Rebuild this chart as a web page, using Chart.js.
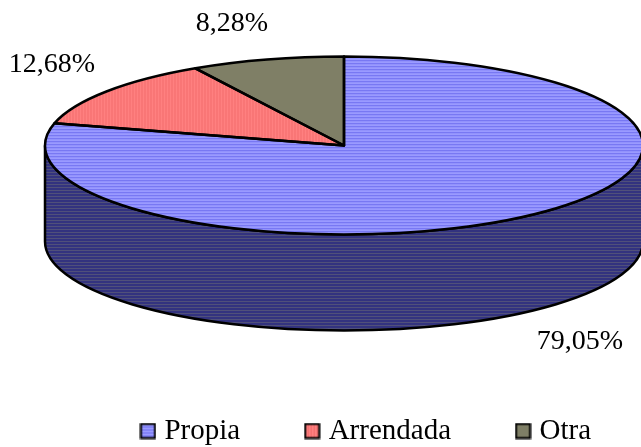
<!DOCTYPE html>
<html>
<head>
<meta charset="utf-8">
<title>Propia / Arrendada / Otra</title>
<style>
  html, body { margin: 0; padding: 0; background: #fff; }
  canvas { display: block; }
</style>
</head>
<body>
<canvas id="pie" width="641" height="447"></canvas>
<script src="https://cdn.jsdelivr.net/npm/chart.js@4/dist/chart.umd.min.js"></script>
<script>
/* ── DATA ──────────────────────────────────────────────── */
const categories = ['Propia', 'Arrendada', 'Otra'];
const shares = [79.05, 12.68, 8.28];

/* ── LOOK ──────────────────────────────────────────────── */
const FONT = '"Liberation Serif", serif';
const CX = 344, CY = 145.5, RX = 299, RY = 89, DEPTH = 96;
const FLATTEN = RY / RX;
const labelCentres = [[580, 342], [52, 65], [232, 24]];
const LEGEND_PADDING = 70, LEGEND_SHIFT = 48, LEGEND_MID_Y = 431;

/* small repeating tiles for the hatch fills */
function tile(w, h, paint) {
    const c = document.createElement('canvas');
    c.width = w; c.height = h;
    paint(c.getContext('2d'));
    return c;
}
function stripesH(a, b) {
    return tile(1, 3, g => { g.fillStyle = a; g.fillRect(0, 0, 1, 3); g.fillStyle = b; g.fillRect(0, 1, 1, 1); });
}
function stripesV(a, b) {
    return tile(3, 1, g => { g.fillStyle = a; g.fillRect(0, 0, 3, 1); g.fillStyle = b; g.fillRect(1, 0, 1, 1); });
}
function checks(a, b) {
    return tile(2, 2, g => {
        g.fillStyle = a; g.fillRect(0, 0, 2, 2);
        g.fillStyle = b; g.fillRect(0, 0, 1, 1); g.fillRect(1, 1, 1, 1);
    });
}
const tiles = [stripesH('#9a9aff', '#7070f0'), stripesV('#ff8080', '#f26c6c'), checks('#8c8c70', '#73735c')];
const wallTile = stripesH('#33337f', '#50507a');

const ctx = document.getElementById('pie').getContext('2d');

/* patterns get stretched back so they survive the flatten transform */
const fills = tiles.map(t => {
    const p = ctx.createPattern(t, 'repeat');
    p.setTransform(new DOMMatrix().scale(1, 1 / FLATTEN));
    return p;
});

function swatch(t) {
    return tile(17, 17, g => {
        g.fillStyle = g.createPattern(t, 'repeat');
        g.fillRect(1, 1, 15, 15);
        g.strokeStyle = '#000';
        g.lineWidth = 2;
        g.strokeRect(1.5, 1.5, 14, 14);
    });
}

/* ── 3D PIE PLUGIN ─────────────────────────────────────── */
function flatten(c, arc) {
    c.translate(CX, CY);
    c.scale(1, FLATTEN);
    c.translate(-arc.x, -arc.y);
}

const pie3d = {
    id: 'pie3d',
    afterLayout(chart) {
        // legend sits off-centre and close to the bottom edge
        const legend = chart.legend;
        legend.left += LEGEND_SHIFT;
        legend.right += LEGEND_SHIFT;
        legend.top = LEGEND_MID_Y - LEGEND_PADDING - legend.options.labels.font.size / 2;
    },
    beforeDatasetsDraw(chart) {
        const c = chart.ctx;
        const arc = chart.getDatasetMeta(0).data[0];
        const drop = DEPTH / FLATTEN;
        // side wall, only the front half shows
        c.save();
        flatten(c, arc);
        c.beginPath();
        c.arc(arc.x, arc.y, arc.outerRadius, 0, Math.PI);
        c.arc(arc.x, arc.y + drop, arc.outerRadius, Math.PI, 0, true);
        c.closePath();
        c.restore();
        c.fillStyle = c.createPattern(wallTile, 'repeat');
        c.fill();
        c.strokeStyle = '#000';
        c.lineWidth = 2.5;
        c.stroke();
        // flatten the slices the library is about to draw
        c.save();
        flatten(c, arc);
    },
    afterDatasetsDraw(chart) {
        const c = chart.ctx;
        c.restore();
        // outlines are built flattened but stroked unflattened, keeps the line even
        chart.getDatasetMeta(0).data.forEach(arc => {
            c.save();
            flatten(c, arc);
            c.beginPath();
            c.moveTo(arc.x, arc.y);
            c.arc(arc.x, arc.y, arc.outerRadius, arc.startAngle, arc.endAngle);
            c.closePath();
            c.restore();
            c.strokeStyle = '#000';
            c.lineWidth = 2.5;
            c.lineJoin = 'round';
            c.stroke();
        });
        // percent labels
        c.save();
        c.fillStyle = '#000';
        c.font = '28px ' + FONT;
        c.textAlign = 'center';
        c.textBaseline = 'middle';
        shares.forEach((v, i) => {
            c.fillText(v.toFixed(2).replace('.', ',') + '%', labelCentres[i][0], labelCentres[i][1]);
        });
        c.restore();
    },
};

/* ── CHART ─────────────────────────────────────────────── */
new Chart(ctx, {
    type: 'pie',
    data: {
        labels: categories,
        datasets: [{
            data: shares,
            backgroundColor: fills,
            borderWidth: 0,
            radius: RX,
            clip: false,
        }],
    },
    options: {
        responsive: false,
        animation: false,
        plugins: {
            tooltip: { enabled: false },
            legend: {
                position: 'bottom',
                labels: {
                    font: { family: FONT, size: 29 },
                    color: '#000',
                    usePointStyle: true,
                    pointStyleWidth: 4,
                    boxHeight: 16,
                    padding: LEGEND_PADDING,
                    generateLabels: chart => chart.data.labels.map((text, i) => ({
                        text,
                        index: i,
                        hidden: false,
                        pointStyle: swatch(tiles[i]),
                    })),
                },
            },
        },
    },
    plugins: [pie3d],
});
</script>
</body>
</html>
